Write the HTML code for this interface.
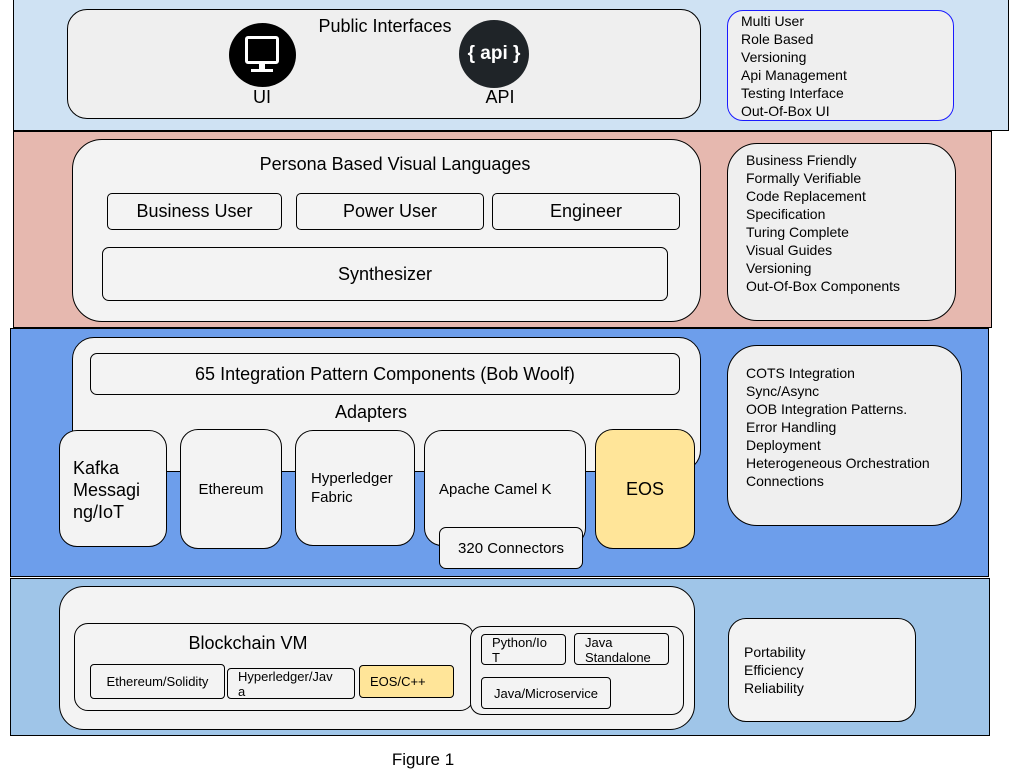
<!DOCTYPE html>
<html><head><meta charset="utf-8"><style>
body{margin:0;width:1024px;height:768px;background:#fff;position:relative;overflow:hidden;font-family:"Liberation Sans",sans-serif;color:#000}
div{position:absolute;box-sizing:border-box}
.band{border:1px solid #000}
.b{background:#f3f3f3;border:1px solid #000}
.c{display:flex;align-items:center;justify-content:center;text-align:center}
.list{font-size:14px;line-height:18px}
</style></head><body>
<div class="band" style="left:13px;top:-1px;width:996px;height:132px;background:#cfe2f3"></div>
<div class="band" style="left:13px;top:131px;width:979px;height:197px;background:#e6b8af"></div>
<div class="band" style="left:10px;top:328px;width:979px;height:249px;background:#6d9eeb"></div>
<div class="band" style="left:10px;top:578px;width:980px;height:158px;background:#9fc5e8"></div>

<!-- band1 -->
<div class="b" style="left:67px;top:9px;width:634px;height:110px;border-radius:20px;background:#efefef"></div>
<div style="left:300px;top:16px;width:170px;text-align:center;font-size:18px">Public Interfaces</div>
<div style="left:229px;top:23px;width:67px;height:64px;border-radius:50%;background:#000"></div>
<div style="left:245px;top:36px;width:34px;height:28px;border:3px solid #fff;border-radius:3px;background:#000"></div>
<div style="left:259px;top:64px;width:6px;height:5px;background:#fff"></div>
<div style="left:251px;top:69px;width:22px;height:3px;background:#fff"></div>
<div style="left:242px;top:87px;width:40px;text-align:center;font-size:18px">UI</div>
<div class="c" style="left:459px;top:20px;width:70px;height:68px;border-radius:50%;background:#1f2428;color:#fff;font-size:19px;font-weight:bold">{ api }</div>
<div style="left:470px;top:87px;width:60px;text-align:center;font-size:18px">API</div>
<div class="b list" style="left:727px;top:10px;width:227px;height:111px;border-radius:16px;border-color:#1a1aff;padding:1px 0 0 13px;background:#efefef">Multi User<br>Role Based<br>Versioning<br>Api Management<br>Testing Interface<br>Out-Of-Box UI</div>

<!-- band2 -->
<div class="b" style="left:72px;top:139px;width:629px;height:183px;border-radius:30px"></div>
<div style="left:200px;top:154px;width:390px;text-align:center;font-size:18px">Persona Based Visual Languages</div>
<div class="b c" style="left:107px;top:193px;width:175px;height:37px;border-radius:5px;font-size:18px">Business User</div>
<div class="b c" style="left:296px;top:193px;width:188px;height:37px;border-radius:5px;font-size:18px">Power User</div>
<div class="b c" style="left:492px;top:193px;width:188px;height:37px;border-radius:5px;font-size:18px">Engineer</div>
<div class="b c" style="left:102px;top:247px;width:566px;height:54px;border-radius:7px;font-size:18px">Synthesizer</div>
<div class="b list" style="left:727px;top:143px;width:229px;height:178px;border-radius:30px;padding:7px 0 0 18px;background:#efefef">Business Friendly<br>Formally Verifiable<br>Code Replacement<br>Specification<br>Turing Complete<br>Visual Guides<br>Versioning<br>Out-Of-Box Components</div>

<!-- band3 -->
<div class="b" style="left:72px;top:337px;width:629px;height:135px;border-radius:22px"></div>
<div class="b c" style="left:90px;top:353px;width:590px;height:42px;border-radius:7px;font-size:18px">65 Integration Pattern Components (Bob Woolf)</div>
<div style="left:300px;top:402px;width:142px;text-align:center;font-size:18px">Adapters</div>
<div class="b" style="left:59px;top:430px;width:108px;height:117px;border-radius:18px;font-size:18px;line-height:22px;padding:26px 0 0 13px">Kafka<br>Messagi<br>ng/IoT</div>
<div class="b c" style="left:180px;top:429px;width:102px;height:120px;border-radius:18px;font-size:15px">Ethereum</div>
<div class="b" style="left:295px;top:430px;width:120px;height:116px;border-radius:18px;font-size:15px;line-height:19px;padding:38px 0 0 15px">Hyperledger<br>Fabric</div>
<div class="b" style="left:424px;top:430px;width:162px;height:116px;border-radius:18px;font-size:15px;padding:50px 0 0 14px">Apache Camel K</div>
<div class="b c" style="left:439px;top:527px;width:144px;height:42px;border-radius:7px;font-size:15px">320 Connectors</div>
<div class="b c" style="left:595px;top:429px;width:100px;height:120px;border-radius:18px;font-size:18px;background:#ffe599">EOS</div>
<div class="b list" style="left:727px;top:345px;width:235px;height:181px;border-radius:30px;padding:18px 0 0 18px;background:#efefef">COTS Integration<br>Sync/Async<br>OOB Integration Patterns.<br>Error Handling<br>Deployment<br>Heterogeneous Orchestration<br>Connections</div>

<!-- band4 -->
<div class="b" style="left:59px;top:586px;width:636px;height:144px;border-radius:25px"></div>
<div class="b" style="left:74px;top:623px;width:400px;height:88px;border-radius:14px"></div>
<div style="left:150px;top:633px;width:196px;text-align:center;font-size:18px">Blockchain VM</div>
<div class="b c" style="left:90px;top:664px;width:135px;height:35px;border-radius:4px;font-size:13px">Ethereum/Solidity</div>
<div class="b" style="left:227px;top:668px;width:128px;height:31px;border-radius:4px;font-size:13px;line-height:15px;padding:0 0 0 10px">Hyperledger/Jav<br>a</div>
<div class="b c" style="left:359px;top:665px;width:95px;height:33px;border-radius:4px;font-size:13px;background:#ffe599;justify-content:flex-start;padding-left:10px">EOS/C++</div>
<div class="b" style="left:470px;top:626px;width:214px;height:89px;border-radius:12px"></div>
<div class="b" style="left:481px;top:634px;width:85px;height:31px;border-radius:4px;font-size:13px;line-height:15px;padding:0 0 0 10px">Python/Io<br>T</div>
<div class="b" style="left:574px;top:633px;width:95px;height:32px;border-radius:4px;font-size:13px;line-height:15px;padding:1px 0 0 10px">Java<br>Standalone</div>
<div class="b c" style="left:481px;top:677px;width:130px;height:32px;border-radius:4px;font-size:13px">Java/Microservice</div>
<div class="b list" style="left:728px;top:618px;width:188px;height:104px;border-radius:18px;padding:24px 0 0 15px">Portability<br>Efficiency<br>Reliability</div>

<div style="left:380px;top:750px;width:86px;text-align:center;font-size:17px">Figure 1</div>
</body></html>
